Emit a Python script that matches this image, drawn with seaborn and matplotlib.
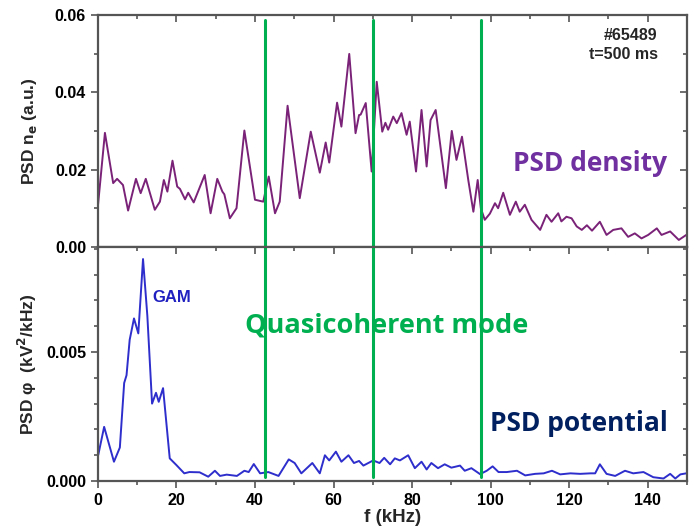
import matplotlib
matplotlib.use("Agg")
import matplotlib.pyplot as plt
import numpy as np
import pandas as pd
import seaborn as sns
from matplotlib.ticker import MultipleLocator

# density spectrum
f_ne = [0, 1.8, 3.9, 4.9, 6.4, 7.7, 9.7, 10.9, 12.2, 14.5, 15.8, 16.8, 17.7, 19.0, 20.2, 20.9,
        22.2, 23.0, 24.4, 27.2, 28.7, 30.4, 31.7, 32.2, 33.6, 35.3, 37.3, 40.0, 42.1, 43.5,
        45.1, 46.3, 48.3, 51.4, 54.2, 56.5, 58.0, 58.9, 60.9, 62.0, 64.0, 65.6, 66.5, 66.9,
        68.2, 69.7, 71.0, 72.4, 73.2, 73.9, 75.2, 76.1, 77.3, 78.6, 79.4, 81.0, 82.4, 83.7,
        84.7, 86.0, 88.6, 90.1, 91.3, 92.7, 94.3, 95.6, 96.7, 97.5, 98.5, 99.8, 101.1, 101.9,
        103.2, 104.9, 106.4, 107.4, 108.7, 110.4, 112.6, 114.2, 115.5, 117.2, 118.0, 119.3,
        120.6, 121.9, 123.2, 124.5, 125.8, 127.8, 129.5, 131.2, 133.3, 135.0, 136.7, 138.4,
        140.1, 142.3, 143.5, 145.7, 147.9, 149.8]
psd_ne = [0.0104, 0.0295, 0.0165, 0.0176, 0.0160, 0.0094, 0.0176, 0.0139, 0.0176, 0.0096,
          0.0117, 0.0173, 0.0143, 0.0223, 0.0156, 0.0150, 0.0123, 0.0140, 0.0115, 0.0186,
          0.0087, 0.0176, 0.0143, 0.0136, 0.0074, 0.0100, 0.0301, 0.0122, 0.0117, 0.0182,
          0.0087, 0.0117, 0.0365, 0.0126, 0.0298, 0.0192, 0.0270, 0.0218, 0.0373, 0.0311,
          0.0499, 0.0294, 0.0341, 0.0342, 0.0372, 0.0195, 0.0427, 0.0298, 0.0321, 0.0303,
          0.0337, 0.0320, 0.0346, 0.0290, 0.0324, 0.0195, 0.0354, 0.0208, 0.0328, 0.0354,
          0.0152, 0.0300, 0.0225, 0.0285, 0.0173, 0.0091, 0.0173, 0.0100, 0.0070, 0.0086,
          0.0113, 0.0100, 0.0140, 0.0083, 0.0117, 0.0091, 0.0109, 0.0070, 0.0044, 0.0083,
          0.0065, 0.0087, 0.0066, 0.0078, 0.0074, 0.0053, 0.0044, 0.0056, 0.0042, 0.0065,
          0.0031, 0.0044, 0.0048, 0.0026, 0.0035, 0.0022, 0.0031, 0.0048, 0.0031, 0.0040,
          0.0018, 0.0031]

# potential spectrum
f_phi = [0.1, 1.6, 4.1, 5.6, 6.7, 7.3, 8.1, 9.2, 10.3, 11.5, 12.6, 13.8, 14.8, 15.5, 16.6,
         18.3, 20.0, 22.0, 23.3, 25.9, 28.1, 29.8, 31.1, 32.8, 35.4, 37.3, 38.4, 39.7, 41.3,
         43.4, 46.0, 48.6, 50.1, 51.8, 54.6, 56.5, 57.8, 58.9, 60.6, 62.0, 63.8, 65.2, 66.5,
         67.6, 70.1, 71.7, 72.9, 74.4, 75.6, 76.9, 79.0, 80.7, 82.4, 83.7, 84.9, 86.6, 88.3,
         90.0, 92.2, 93.4, 95.1, 97.3, 99.0, 100.5, 102.0, 104.1, 106.7, 108.8, 111.3, 113.5,
         115.6, 117.7, 120.3, 122.8, 125.4, 126.6, 127.8, 129.5, 131.7, 134.2, 136.3, 138.9,
         141.4, 144.0, 145.7, 147.0, 148.3, 149.8]
psd_phi = [0.00101, 0.00210, 0.00075, 0.00130, 0.00380, 0.00410, 0.00547, 0.00630, 0.00572,
           0.00860, 0.00640, 0.00300, 0.00342, 0.00307, 0.00360, 0.00088, 0.00062, 0.00030,
           0.00035, 0.00034, 0.00017, 0.00040, 0.00020, 0.00025, 0.00020, 0.00040, 0.00035,
           0.00066, 0.00030, 0.00035, 0.00020, 0.00084, 0.00070, 0.00030, 0.00070, 0.00030,
           0.00100, 0.00080, 0.00114, 0.00075, 0.00100, 0.00070, 0.00078, 0.00060, 0.00080,
           0.00070, 0.00090, 0.00065, 0.00088, 0.00080, 0.00100, 0.00050, 0.00075, 0.00045,
           0.00070, 0.00050, 0.00065, 0.00052, 0.00060, 0.00040, 0.00050, 0.00027, 0.00040,
           0.00057, 0.00035, 0.00035, 0.00040, 0.00022, 0.00028, 0.00030, 0.00040, 0.00026,
           0.00030, 0.00028, 0.00030, 0.00030, 0.00065, 0.00028, 0.00020, 0.00040, 0.00030,
           0.00035, 0.00015, 0.00010, 0.00028, 0.00010, 0.00026, 0.00030]

qc_lines = [42.5, 70.0, 97.5]

sns.set_style("ticks")
plt.rcParams["font.family"] = ["Liberation Sans", "DejaVu Sans"]
plt.rcParams["font.weight"] = "bold"

df_ne = pd.DataFrame({"f": f_ne, "psd": psd_ne})
df_phi = pd.DataFrame({"f": f_phi, "psd": psd_phi})

fig = plt.figure(figsize=(6.94, 5.31), dpi=100)
ax1 = fig.add_axes([0.141, 0.535, 0.849, 0.437])
ax2 = fig.add_axes([0.141, 0.094, 0.849, 0.441], sharex=ax1)

sns.lineplot(data=df_ne, x="f", y="psd", ax=ax1, color="#7A2277", lw=1.4)
sns.lineplot(data=df_phi, x="f", y="psd", ax=ax2, color="#2E2ECC", lw=1.4)

green = "#00B050"
for x in qc_lines:
    ax1.axvline(x, ymin=0, ymax=0.978, color=green, lw=2.2)
    ax2.axvline(x, ymin=0.017, ymax=1, color=green, lw=2.2)

ax1.set_xlim(0, 150)
ax1.set_ylim(0, 0.06)
ax2.set_ylim(0, 0.00907)
ax1.yaxis.set_major_locator(MultipleLocator(0.02))
ax1.yaxis.set_minor_locator(MultipleLocator(0.01))
ax2.yaxis.set_major_locator(MultipleLocator(0.005))
ax2.yaxis.set_minor_locator(MultipleLocator(0.001))
ax1.xaxis.set_major_locator(MultipleLocator(20))
ax1.xaxis.set_minor_locator(MultipleLocator(10))
ax1.yaxis.set_major_formatter(plt.FormatStrFormatter("%.2f"))
ax2.yaxis.set_major_formatter(plt.FormatStrFormatter("%.3f"))

frame = "#555555"
for ax in (ax1, ax2):
    for s in ax.spines.values():
        s.set_color(frame)
        s.set_linewidth(1.6)
    ax.tick_params(axis="both", which="both", colors=frame, labelcolor="black",
                   labelsize=11.5, width=1.2, direction="out")
    ax.tick_params(axis="both", which="major", length=5)
    ax.tick_params(axis="both", which="minor", length=3)
    ax.set_xlabel("")
    for lab in ax.get_xticklabels() + ax.get_yticklabels():
        lab.set_fontweight("bold")
    # inward ticks on the top and right edges
    sec_y = ax.secondary_yaxis("right")
    sec_y.yaxis.set_major_locator(ax.yaxis.get_major_locator())
    sec_y.yaxis.set_minor_locator(ax.yaxis.get_minor_locator())
    sec_y.tick_params(which="both", direction="in", colors=frame, width=1.2, labelright=False)
    sec_y.tick_params(which="major", length=5)
    sec_y.tick_params(which="minor", length=3)
    sec_y.spines["right"].set_visible(False)
    sec_x = ax.secondary_xaxis("top")
    sec_x.xaxis.set_major_locator(MultipleLocator(20))
    sec_x.xaxis.set_minor_locator(MultipleLocator(10))
    sec_x.tick_params(which="both", direction="in", colors=frame, width=1.2, labeltop=False)
    sec_x.tick_params(which="major", length=5)
    sec_x.tick_params(which="minor", length=3)
    sec_x.spines["top"].set_visible(False)
ax1.tick_params(axis="x", which="both", labelbottom=False, bottom=False)

ax1.set_ylabel("PSD n$_\\mathbf{e}$ (a.u.)", fontsize=12.5, fontweight="bold")
ax2.set_ylabel("PSD φ  (kV$^\\mathbf{2}$/kHz)", fontsize=12.5, fontweight="bold")
ax2.set_xlabel("f (kHz)", fontsize=13.5, fontweight="bold", labelpad=1)
ax1.yaxis.set_label_coords(-0.1, 0.5)
ax2.yaxis.set_label_coords(-0.1, 0.5)

ax1.text(0.95, 0.87, "#65489\nt=500 ms", transform=ax1.transAxes, ha="right", va="center",
         fontsize=11.5, fontweight="bold", linespacing=1.35)
ax1.text(0.967, 0.36, "PSD density", transform=ax1.transAxes, ha="right", va="center",
         fontsize=19, fontweight="bold", color="#7030A0", family=["Open Sans", "DejaVu Sans"])
ax2.text(0.093, 0.785, "GAM", transform=ax2.transAxes, ha="left", va="center",
         fontsize=12, fontweight="bold", color="#2020C0")
ax2.text(0.49, 0.665, "Quasicoherent mode", transform=ax2.transAxes, ha="center", va="center",
         fontsize=19.5, fontweight="bold", color=green, family=["Open Sans", "DejaVu Sans"])
ax2.text(0.967, 0.245, "PSD potential", transform=ax2.transAxes, ha="right", va="center",
         fontsize=19, fontweight="bold", color="#002060", family=["Open Sans", "DejaVu Sans"])

fig.savefig("out.png", dpi=100)
